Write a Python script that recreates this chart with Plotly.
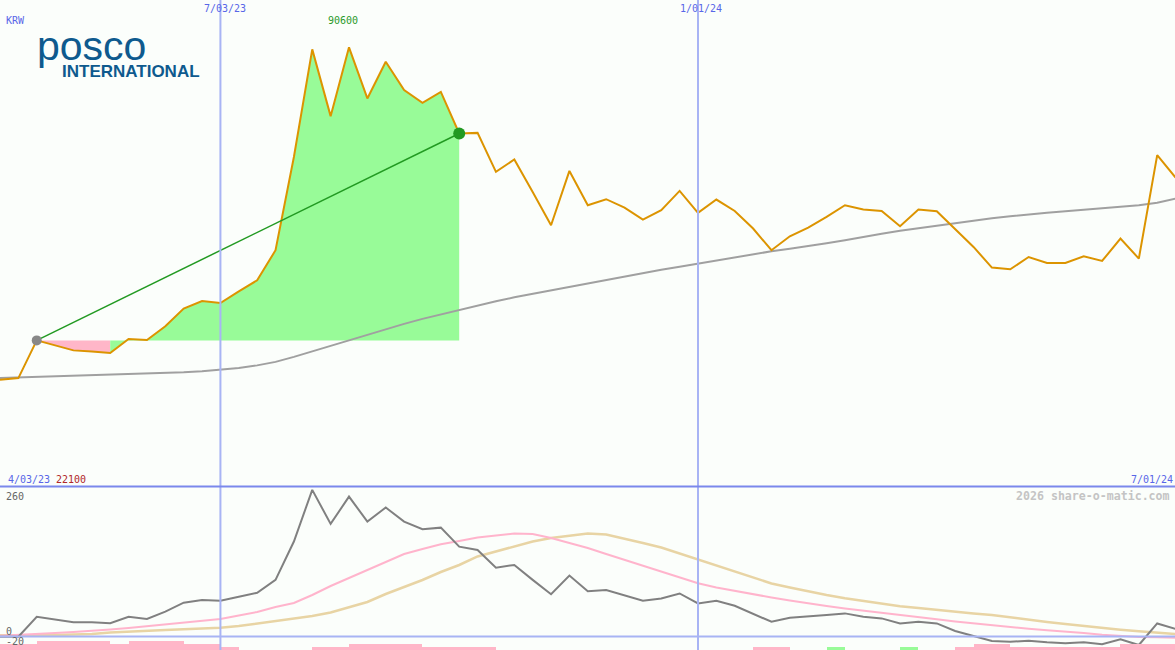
import pandas as pd
import plotly.graph_objects as go

# ---------------- data (weekly) ----------------
start_date = "2023-04-10"
price = [22100, 22430, 30200, 29170, 28140, 27930, 27590, 30480, 30270, 33100,
         36750, 38320, 37900, 40320, 42590, 48780, 68000, 90180, 76420, 90600,
         80070, 87620, 81780, 79160, 81430, 72850, 72970, 64930, 67490, 60800,
         53930, 65130, 58060, 59300, 57580, 55110, 57030, 61010, 56470, 59230,
         56880, 53250, 48780, 51660, 53460, 55640, 58060, 57170, 56880, 53730,
         57170, 56820, 53050, 49460, 45210, 44860, 47390, 46160, 46160, 47540,
         46570, 51190, 47060, 68370, 63770]
long_ma = [22470, 22570, 22680, 22780, 22880, 22990, 23090, 23190, 23300, 23440,
           23610, 23850, 24120, 24530, 25050, 25770, 26800, 27940, 29070, 30310,
           31450, 32580, 33610, 34640, 35570, 36500, 37430, 38250, 39080, 39800,
           40520, 41250, 41970, 42690, 43410, 44130, 44750, 45370, 46030, 46710,
           47330, 47950, 48570, 49080, 49600, 50220, 50840, 51560, 52180, 52800,
           53310, 53930, 54450, 54960, 55380, 55790, 56200, 56510, 56820, 57130,
           57440, 57750, 58060, 58570, 59400]
osc = [-0.3, -0.4, 35, 30.5, 25.2, 25.2, 23.4, 35, 31.1, 44,
       60, 64.8, 63.5, 70.5, 77.6, 100.5, 168.5, 260.2, 199.8, 248.3,
       203.9, 228.8, 203.9, 190.3, 193.2, 159.5, 153.6, 122.2, 127, 100.5,
       75.1, 108.1, 80.5, 82.3, 73.4, 63.3, 67.6, 76.4, 58.7, 63.3,
       54.5, 41, 26.1, 33.2, 35, 38, 41, 35, 32.1, 23.2,
       26.1, 23.2, 9.8, 1.4, -8, -9.2, -7.5, -10.3, -12.1, -10.3,
       -13.8, -5, -15.1, 23.2, 13.3]
osc_fast = [1.4, 2.7, 4.4, 6.2, 8, 9.8, 12.4, 15.1, 18.1, 21.3,
            24.8, 28.4, 31.1, 37.3, 43.5, 52.4, 59.4, 73.6, 89.6, 103.8,
            118, 132.2, 146.4, 155.3, 163.6, 169.5, 175.7, 179.2, 182.8, 181.9,
            174.8, 165.9, 157, 146.4, 135.8, 125.1, 114.5, 103.8, 94.4, 87,
            80.7, 74.5, 69.2, 63.9, 58.6, 54.1, 49.7, 46.1, 42.6, 38.5,
            34.6, 30.5, 26.6, 23.1, 19.9, 16.9, 13.8, 11, 8.9, 6.2,
            3.2, 0.5, -0.9, -1.4, -2.1]
osc_slow = [2.1, 1.8, 2.1, 2.7, 3.5, 4.4, 7.1, 8.9, 10.3, 11.5,
            12.8, 14.2, 15.6, 18.6, 23.1, 27.2, 31.1, 36.4, 42.6, 52.4,
            61.2, 75.4, 87.8, 100.3, 114.5, 126.9, 142, 150.8, 160.6, 168.6,
            174.8, 179.2, 182.8, 181, 173.9, 165.9, 158, 147.3, 135.8, 125,
            114.5, 104.7, 94.1, 87, 79.9, 73.6, 67.8, 63, 57.7, 53.6,
            50.6, 47, 44, 40.8, 38.2, 33.7, 29.3, 25.7, 22.2, 18.6,
            15.1, 12.1, 9.2, 6.6, 4.4]
# weekly signal bands (positive = pink, negative = green)
band = [2, 2, 3, 3, 3, 3, 2, 3, 3, 3,
        2, 2, 1, 0, 0, 0, 0, 1, 1, 2,
        2, 2, 2, 1, 1, 1, 1, 0, 0, 0,
        0, 0, 0, 0, 0, 0, 0, 0, 0, 0,
        0, 1, 1, 0, 0, -1, 0, 0, 0, -1,
        0, 0, 1, 2, 2, 1, 1, 1, 1, 1,
        1, 2, 2, 2]
start_idx = 2
end_idx = 25
marker_dates = ["2023-07-03", "2024-01-01"]
high_label = "90600"
low_label = "22100"

# ---------------- figure ----------------
W, H = 1175, 650
dates = list(pd.date_range(start_date, periods=len(price), freq="7D"))
base = price[start_idx]

ORANGE = "#dc9400"
fig = go.Figure()


def run_poly(i0, i1, color):
    xs = dates[i0:i1 + 1] + dates[i0:i1 + 1][::-1]
    ys = price[i0:i1 + 1] + [base] * (i1 - i0 + 1)
    fig.add_trace(go.Scatter(x=xs, y=ys, fill="toself", fillcolor=color,
                             line=dict(width=0), mode="lines", hoverinfo="skip",
                             showlegend=False))


# group consecutive segments by colour
runs = []
for i in range(start_idx, end_idx):
    col = "#98fb98" if price[i + 1] >= base else "#ffb6c8"
    if runs and runs[-1][2] == col:
        runs[-1][1] = i + 1
    else:
        runs.append([i, i + 1, col])
for r in runs:
    run_poly(*r)

fig.add_trace(go.Scatter(x=dates, y=long_ma, mode="lines",
                         line=dict(color="#a0a0a0", width=2), showlegend=False))
fig.add_trace(go.Scatter(x=dates, y=price, mode="lines",
                         line=dict(color=ORANGE, width=2), showlegend=False))
fig.add_trace(go.Scatter(x=[dates[start_idx], dates[end_idx]],
                         y=[price[start_idx], price[end_idx]], mode="lines",
                         line=dict(color="#229a22", width=1.5), showlegend=False))
fig.add_trace(go.Scatter(x=[dates[start_idx]], y=[price[start_idx]], mode="markers",
                         marker=dict(color="#888888", size=10), showlegend=False))
fig.add_trace(go.Scatter(x=[dates[end_idx]], y=[price[end_idx]], mode="markers",
                         marker=dict(color="#229a22", size=12), showlegend=False))

# lower panel
mid = [d + pd.Timedelta(days=3.5) for d in dates[:-1]]
fig.add_trace(go.Bar(x=mid, y=[abs(b) for b in band], yaxis="y3",
                     width=[7 * 24 * 3600 * 1000] * len(band),
                     marker=dict(color=["#98fb98" if b < 0 else "#ffb6c8" for b in band],
                                 line=dict(width=0)),
                     showlegend=False))
fig.add_trace(go.Scatter(x=dates, y=osc_slow, yaxis="y2", mode="lines",
                         line=dict(color="#e8d4a4", width=2.5), showlegend=False))
fig.add_trace(go.Scatter(x=dates, y=osc_fast, yaxis="y2", mode="lines",
                         line=dict(color="#ffb4cc", width=2), showlegend=False))
fig.add_trace(go.Scatter(x=dates, y=osc, yaxis="y2", mode="lines",
                         line=dict(color="#808080", width=2), showlegend=False))

top_bottom_px = 486.5
low_top_px = 487
fig.update_layout(
    width=W, height=H, margin=dict(l=0, r=0, t=0, b=0),
    paper_bgcolor="#fbfefb", plot_bgcolor="#fbfefb",
    xaxis=dict(range=["2023-04-10", "2024-06-30 18:43"], visible=False, fixedrange=True),
    yaxis=dict(domain=[1 - top_bottom_px / H, 1], range=[84, 100359], visible=False),
    yaxis2=dict(domain=[0, (H - low_top_px) / H], range=[-23.96, 265.3], visible=False),
    yaxis3=dict(overlaying="y2", range=[0, (H - low_top_px) / 3], visible=False),
    bargap=0,
)

LB = "#a8b4f4"
for d in marker_dates:
    fig.add_shape(type="line", xref="x", yref="paper", x0=d, x1=d, y0=0, y1=1,
                  line=dict(color=LB, width=2), layer="above")
fig.add_shape(type="line", xref="paper", yref="paper", x0=0, x1=1,
              y0=1 - top_bottom_px / H, y1=1 - top_bottom_px / H,
              line=dict(color="#7b88ec", width=2), layer="above")
fig.add_shape(type="line", xref="paper", yref="y2", x0=0, x1=1, y0=0, y1=0,
              line=dict(color=LB, width=2), layer="above")

MONO = "DejaVu Sans Mono"


def label(text, xpx, ypx, color, size=10, xanchor="center", family=MONO, bold=False):
    fig.add_annotation(x=xpx / W, y=1 - ypx / H, xref="paper", yref="paper",
                       text=("<b>%s</b>" % text) if bold else text, showarrow=False,
                       xanchor=xanchor, yanchor="middle",
                       font=dict(family=family, size=size, color=color))


BLUE = "#5866e8"
label("KRW", 15, 21, BLUE)
label("7/03/23", 224.5, 9, BLUE)
label("1/01/24", 701, 9, BLUE)
label(high_label, 343, 21, "#2a9a2a")
label("4/03/23", 28.5, 479, BLUE)
label(low_label, 70.5, 479, "#b02828")
label("7/01/24", 1151.5, 479, BLUE)
label("2026 share-o-matic.com", 1172, 496, "#c4c4c4", size=11.6, xanchor="right", bold=True)
label("260", 14.5, 496.5, "#666666")
label("0", 8.5, 631, "#666666")
label("-20", 14.5, 641, "#666666")

# logo
label("posco", 91, 46, "#0e5a8e", size=41, family="Liberation Sans")
label("INTERNATIONAL", 130.5, 71, "#0e5a8e", size=17, family="Liberation Sans", bold=True)

fig.write_html("out.html", config={"displayModeBar": False},
               post_script="document.body.style.margin='0';")
